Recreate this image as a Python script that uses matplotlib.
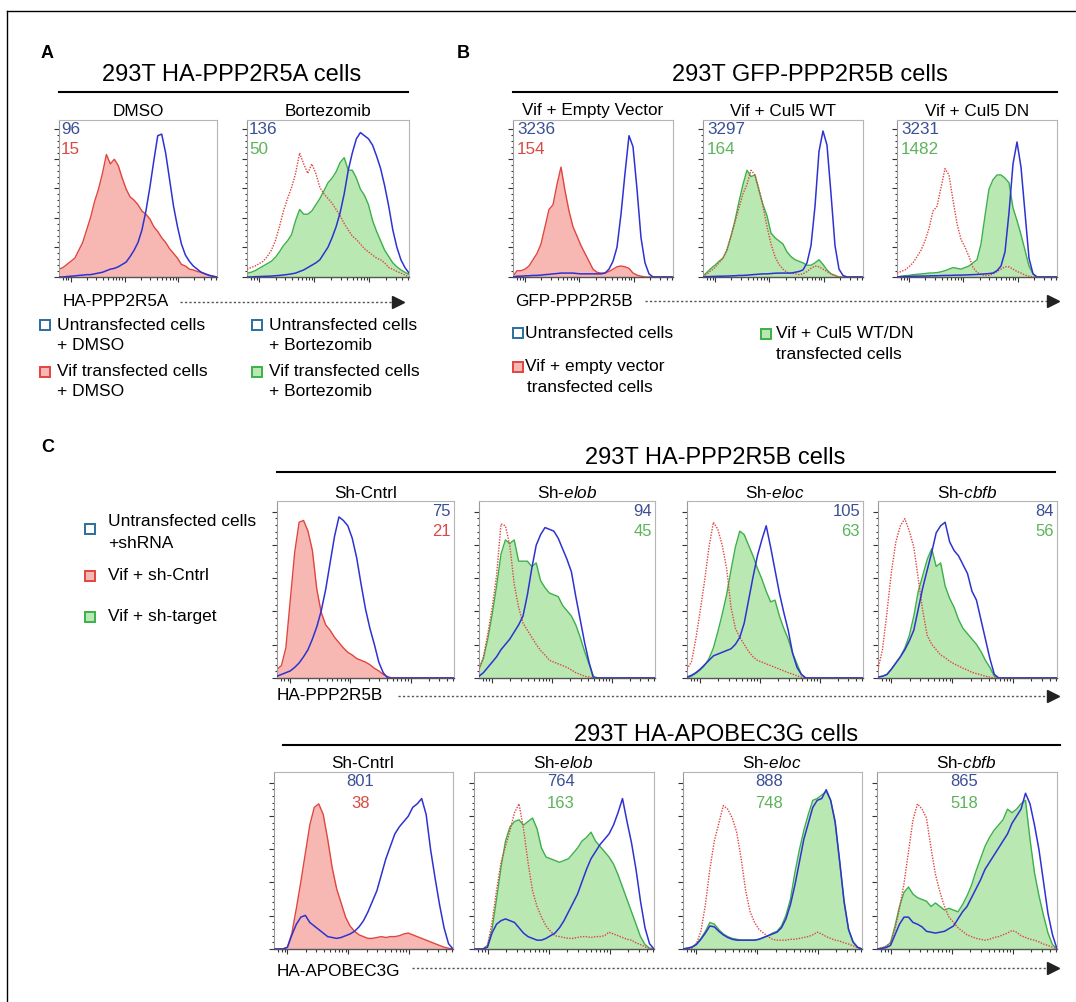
import numpy as np
import matplotlib
matplotlib.use("Agg")
import matplotlib.pyplot as plt
from matplotlib.lines import Line2D

plt.rcParams['font.family'] = ['Liberation Sans', 'DejaVu Sans']
plt.rcParams['mathtext.fontset'] = 'custom'
plt.rcParams['mathtext.rm'] = 'Liberation Sans'
plt.rcParams['mathtext.it'] = 'Liberation Sans:italic'

W, H = 1076, 1002

# histogram bin centres (fraction of the log-scaled fluorescence axis)
BINS = np.linspace(0, 1, 41)

# ---------------- A: 293T HA-PPP2R5A cells (relative counts per bin)
A_DMSO_VIF = [0.05, 0.06, 0.08, 0.10, 0.12, 0.17, 0.22, 0.30, 0.38, 0.48,
              0.56, 0.66, 0.78, 0.72, 0.75, 0.71, 0.63, 0.56, 0.51, 0.49,
              0.46, 0.42, 0.40, 0.37, 0.32, 0.29, 0.25, 0.22, 0.18, 0.15,
              0.12, 0.08, 0.07, 0.05, 0.045, 0.035, 0.03, 0.02, 0.012, 0.005, 0]
A_DMSO_UNT = [0, 0, 0.003, 0.005, 0.007, 0.01, 0.012, 0.015, 0.015, 0.02,
              0.025, 0.03, 0.04, 0.05, 0.055, 0.065, 0.08, 0.095, 0.13, 0.17,
              0.22, 0.30, 0.42, 0.57, 0.74, 0.90, 0.91, 0.79, 0.62, 0.45,
              0.32, 0.21, 0.14, 0.10, 0.07, 0.05, 0.03, 0.02, 0.01, 0.005, 0]
A_BORT_REF = [0.05, 0.06, 0.07, 0.085, 0.10, 0.13, 0.17, 0.23, 0.32, 0.42,
              0.50, 0.57, 0.66, 0.79, 0.72, 0.66, 0.72, 0.66, 0.57, 0.53,
              0.50, 0.47, 0.43, 0.39, 0.34, 0.30, 0.26, 0.24, 0.21, 0.18,
              0.16, 0.14, 0.12, 0.11, 0.09, 0.06, 0.05, 0.035, 0.025, 0.012, 0]
A_BORT_VIF = [0.025, 0.03, 0.04, 0.055, 0.07, 0.085, 0.10, 0.125, 0.16, 0.20,
              0.23, 0.27, 0.36, 0.43, 0.40, 0.40, 0.42, 0.46, 0.50, 0.55,
              0.60, 0.63, 0.67, 0.73, 0.76, 0.68, 0.68, 0.63, 0.56, 0.52,
              0.46, 0.36, 0.29, 0.23, 0.17, 0.13, 0.09, 0.065, 0.045, 0.03, 0.015]
A_BORT_UNT = [0, 0, 0.002, 0.003, 0.004, 0.005, 0.006, 0.008, 0.01, 0.013,
              0.016, 0.02, 0.025, 0.035, 0.045, 0.06, 0.075, 0.09, 0.11, 0.15,
              0.19, 0.25, 0.32, 0.41, 0.53, 0.68, 0.79, 0.88, 0.92, 0.90,
              0.88, 0.84, 0.77, 0.69, 0.58, 0.45, 0.30, 0.19, 0.11, 0.06, 0.025]

# ---------------- B: 293T GFP-PPP2R5B cells
B_EV_VIF = [0.005, 0.04, 0.04, 0.05, 0.07, 0.11, 0.15, 0.21, 0.32, 0.43,
            0.46, 0.59, 0.70, 0.55, 0.42, 0.32, 0.26, 0.20, 0.15, 0.10,
            0.05, 0.03, 0.025, 0.025, 0.035, 0.05, 0.065, 0.07, 0.065, 0.055,
            0.025, 0.012, 0.005, 0, 0, 0, 0, 0, 0, 0, 0]
B_EV_UNT = [0, 0.005, 0.005, 0.007, 0.008, 0.01, 0.01, 0.012, 0.015, 0.017,
            0.02, 0.022, 0.025, 0.025, 0.025, 0.025, 0.022, 0.02, 0.02, 0.02,
            0.02, 0.02, 0.02, 0.025, 0.05, 0.10, 0.19, 0.40, 0.66, 0.90,
            0.83, 0.56, 0.25, 0.09, 0.02, 0, 0, 0, 0, 0, 0]
B_WT_VIF = [0.005, 0.03, 0.055, 0.075, 0.10, 0.12, 0.17, 0.26, 0.36, 0.48,
            0.59, 0.68, 0.64, 0.65, 0.55, 0.46, 0.39, 0.28, 0.25, 0.23,
            0.21, 0.16, 0.13, 0.11, 0.10, 0.09, 0.075, 0.075, 0.09, 0.11,
            0.08, 0.045, 0.02, 0.01, 0, 0, 0, 0, 0, 0, 0]
B_WT_REF = [0, 0.02, 0.04, 0.06, 0.09, 0.12, 0.18, 0.26, 0.35, 0.44,
            0.53, 0.59, 0.68, 0.65, 0.56, 0.45, 0.32, 0.21, 0.13, 0.08,
            0.05, 0.03, 0.025, 0.02, 0.015, 0.02, 0.035, 0.055, 0.07, 0.065,
            0.05, 0.035, 0.02, 0.01, 0, 0, 0, 0, 0, 0, 0]
B_WT_UNT = [0, 0.002, 0.003, 0.004, 0.005, 0.005, 0.006, 0.007, 0.008, 0.01,
            0.01, 0.012, 0.014, 0.016, 0.018, 0.02, 0.02, 0.022, 0.024, 0.025,
            0.025, 0.025, 0.025, 0.03, 0.035, 0.045, 0.09, 0.20, 0.45, 0.80,
            0.93, 0.84, 0.53, 0.20, 0.05, 0.01, 0, 0, 0, 0, 0]
B_DN_REF = [0.025, 0.035, 0.045, 0.065, 0.09, 0.13, 0.17, 0.23, 0.31, 0.42,
            0.45, 0.57, 0.69, 0.65, 0.49, 0.34, 0.24, 0.19, 0.13, 0.06,
            0.03, 0.015, 0.01, 0.01, 0.02, 0.035, 0.05, 0.065, 0.065, 0.05,
            0.035, 0.025, 0.012, 0.005, 0, 0, 0, 0, 0, 0, 0]
B_DN_VIF = [0, 0.005, 0.008, 0.01, 0.015, 0.017, 0.02, 0.022, 0.025, 0.026,
            0.028, 0.033, 0.04, 0.05, 0.06, 0.055, 0.05, 0.06, 0.07, 0.09,
            0.11, 0.21, 0.39, 0.56, 0.62, 0.65, 0.65, 0.63, 0.60, 0.44,
            0.36, 0.27, 0.17, 0.07, 0.02, 0, 0, 0, 0, 0, 0]
B_DN_UNT = [0, 0.002, 0.003, 0.004, 0.005, 0.005, 0.006, 0.006, 0.007, 0.008,
            0.008, 0.009, 0.01, 0.01, 0.011, 0.012, 0.012, 0.013, 0.014, 0.015,
            0.016, 0.018, 0.02, 0.022, 0.025, 0.04, 0.07, 0.16, 0.41, 0.72,
            0.86, 0.70, 0.41, 0.12, 0.02, 0, 0, 0, 0, 0, 0]

# ---------------- C (top): 293T HA-PPP2R5B cells
C1_CNTRL_VIF = [0.05, 0.07, 0.17, 0.44, 0.71, 0.88, 0.89, 0.83, 0.72, 0.50,
                0.37, 0.30, 0.27, 0.23, 0.20, 0.17, 0.145, 0.13, 0.11, 0.10,
                0.09, 0.075, 0.055, 0.04, 0.02, 0.008, 0, 0, 0, 0,
                0, 0, 0, 0, 0, 0, 0, 0, 0, 0, 0]
C1_CNTRL_UNT = [0.01, 0.02, 0.03, 0.04, 0.06, 0.085, 0.12, 0.16, 0.22, 0.29,
                0.38, 0.50, 0.65, 0.80, 0.91, 0.89, 0.86, 0.79, 0.68, 0.53,
                0.39, 0.28, 0.19, 0.09, 0.03, 0, 0, 0, 0, 0,
                0, 0, 0, 0, 0, 0, 0, 0, 0, 0, 0]
C1_ELOB_REF = [0.05, 0.12, 0.25, 0.40, 0.58, 0.87, 0.86, 0.75, 0.53, 0.40,
               0.31, 0.27, 0.23, 0.19, 0.155, 0.13, 0.10, 0.09, 0.08, 0.07,
               0.06, 0.045, 0.03, 0.02, 0.01, 0.005, 0, 0, 0, 0,
               0, 0, 0, 0, 0, 0, 0, 0, 0, 0, 0]
C1_ELOB_VIF = [0.05, 0.11, 0.22, 0.36, 0.52, 0.70, 0.78, 0.76, 0.78, 0.66,
               0.66, 0.66, 0.63, 0.65, 0.55, 0.51, 0.48, 0.47, 0.46, 0.41,
               0.38, 0.35, 0.30, 0.23, 0.15, 0.08, 0.01, 0, 0, 0,
               0, 0, 0, 0, 0, 0, 0, 0, 0, 0, 0]
C1_ELOB_UNT = [0.01, 0.03, 0.06, 0.09, 0.12, 0.16, 0.19, 0.22, 0.26, 0.30,
               0.35, 0.47, 0.62, 0.75, 0.81, 0.85, 0.84, 0.83, 0.79, 0.73,
               0.67, 0.60, 0.46, 0.33, 0.20, 0.09, 0, 0, 0, 0,
               0, 0, 0, 0, 0, 0, 0, 0, 0, 0, 0]
C1_ELOC_REF = [0.05, 0.09, 0.22, 0.38, 0.55, 0.74, 0.88, 0.84, 0.75, 0.62,
               0.40, 0.28, 0.23, 0.19, 0.15, 0.12, 0.10, 0.09, 0.08, 0.07,
               0.06, 0.05, 0.04, 0.03, 0.022, 0.012, 0.005, 0, 0, 0,
               0, 0, 0, 0, 0, 0, 0, 0, 0, 0, 0]
C1_ELOC_VIF = [0, 0.01, 0.025, 0.045, 0.07, 0.11, 0.17, 0.26, 0.36, 0.47,
               0.61, 0.74, 0.83, 0.81, 0.75, 0.69, 0.62, 0.56, 0.49, 0.43,
               0.44, 0.35, 0.28, 0.22, 0.14, 0.08, 0.02, 0, 0, 0,
               0, 0, 0, 0, 0, 0, 0, 0, 0, 0, 0]
C1_ELOC_UNT = [0.005, 0.015, 0.03, 0.05, 0.075, 0.10, 0.125, 0.135, 0.145, 0.155,
               0.165, 0.19, 0.23, 0.31, 0.44, 0.57, 0.69, 0.78, 0.86, 0.74,
               0.61, 0.48, 0.37, 0.27, 0.14, 0.06, 0.02, 0, 0, 0,
               0, 0, 0, 0, 0, 0, 0, 0, 0, 0, 0]
C1_CBFB_REF = [0.05, 0.16, 0.37, 0.60, 0.77, 0.86, 0.90, 0.83, 0.74, 0.56,
               0.38, 0.24, 0.19, 0.16, 0.13, 0.115, 0.095, 0.08, 0.068, 0.055,
               0.045, 0.032, 0.025, 0.018, 0.01, 0.005, 0, 0, 0, 0,
               0, 0, 0, 0, 0, 0, 0, 0, 0, 0, 0]
C1_CBFB_VIF = [0.005, 0.01, 0.02, 0.05, 0.085, 0.12, 0.17, 0.24, 0.35, 0.49,
               0.58, 0.67, 0.73, 0.63, 0.65, 0.52, 0.45, 0.40, 0.33, 0.28,
               0.25, 0.22, 0.19, 0.15, 0.10, 0.06, 0.01, 0, 0, 0,
               0, 0, 0, 0, 0, 0, 0, 0, 0, 0, 0]
C1_CBFB_UNT = [0.005, 0.01, 0.02, 0.05, 0.085, 0.12, 0.16, 0.21, 0.27, 0.39,
               0.51, 0.61, 0.71, 0.82, 0.86, 0.88, 0.77, 0.72, 0.69, 0.64,
               0.59, 0.49, 0.44, 0.33, 0.22, 0.11, 0.02, 0, 0, 0,
               0, 0, 0, 0, 0, 0, 0, 0, 0, 0, 0]

# ---------------- C (bottom): 293T HA-APOBEC3G cells
C2_CNTRL_VIF = [0, 0, 0, 0.01, 0.09, 0.23, 0.38, 0.54, 0.70, 0.80,
                0.82, 0.76, 0.62, 0.46, 0.34, 0.26, 0.18, 0.13, 0.10, 0.08,
                0.07, 0.06, 0.06, 0.065, 0.07, 0.065, 0.07, 0.07, 0.075, 0.085,
                0.09, 0.08, 0.07, 0.06, 0.05, 0.04, 0.03, 0.02, 0.01, 0.004, 0]
C2_CNTRL_UNT = [0, 0, 0, 0.01, 0.08, 0.14, 0.18, 0.19, 0.15, 0.13,
                0.11, 0.09, 0.07, 0.065, 0.06, 0.065, 0.075, 0.085, 0.10, 0.125,
                0.16, 0.21, 0.27, 0.33, 0.42, 0.51, 0.58, 0.65, 0.69, 0.72,
                0.75, 0.80, 0.82, 0.85, 0.76, 0.56, 0.40, 0.25, 0.12, 0.03, 0]
C2_ELOB_REF = [0, 0, 0, 0.02, 0.15, 0.33, 0.49, 0.58, 0.67, 0.77,
               0.82, 0.68, 0.49, 0.33, 0.24, 0.18, 0.13, 0.10, 0.075, 0.07,
               0.065, 0.06, 0.06, 0.065, 0.07, 0.07, 0.065, 0.07, 0.07, 0.075,
               0.095, 0.085, 0.075, 0.065, 0.055, 0.05, 0.035, 0.025, 0.012, 0.003, 0]
C2_ELOB_VIF = [0, 0, 0, 0.02, 0.11, 0.28, 0.46, 0.61, 0.69, 0.72,
               0.73, 0.70, 0.72, 0.74, 0.68, 0.57, 0.52, 0.51, 0.50, 0.49,
               0.50, 0.51, 0.54, 0.57, 0.61, 0.63, 0.66, 0.61, 0.58, 0.55,
               0.52, 0.48, 0.42, 0.35, 0.28, 0.21, 0.14, 0.07, 0.025, 0.005, 0]
C2_ELOB_UNT = [0, 0, 0, 0.01, 0.09, 0.14, 0.16, 0.17, 0.16, 0.15,
               0.12, 0.09, 0.07, 0.06, 0.05, 0.05, 0.06, 0.075, 0.09, 0.12,
               0.16, 0.21, 0.26, 0.31, 0.38, 0.45, 0.51, 0.55, 0.59, 0.62,
               0.65, 0.70, 0.77, 0.85, 0.72, 0.60, 0.45, 0.27, 0.12, 0.03, 0]
C2_ELOC_REF = [0, 0, 0.005, 0.03, 0.10, 0.25, 0.45, 0.61, 0.71, 0.81,
               0.79, 0.74, 0.66, 0.51, 0.33, 0.21, 0.15, 0.11, 0.09, 0.07,
               0.055, 0.05, 0.05, 0.05, 0.055, 0.055, 0.06, 0.065, 0.07, 0.08,
               0.095, 0.085, 0.07, 0.06, 0.05, 0.045, 0.035, 0.028, 0.018, 0.008, 0]
C2_ELOC_VIF = [0, 0.005, 0.012, 0.03, 0.06, 0.10, 0.15, 0.14, 0.11, 0.085,
               0.07, 0.06, 0.055, 0.05, 0.05, 0.05, 0.05, 0.055, 0.065, 0.075,
               0.09, 0.10, 0.13, 0.19, 0.28, 0.43, 0.56, 0.67, 0.76, 0.84,
               0.85, 0.87, 0.89, 0.84, 0.71, 0.49, 0.26, 0.11, 0.04, 0.01, 0]
C2_ELOC_UNT = [0, 0.005, 0.01, 0.025, 0.055, 0.09, 0.13, 0.125, 0.10, 0.08,
               0.065, 0.055, 0.05, 0.05, 0.05, 0.05, 0.05, 0.055, 0.065, 0.075,
               0.085, 0.095, 0.12, 0.17, 0.25, 0.36, 0.49, 0.62, 0.71, 0.80,
               0.84, 0.85, 0.90, 0.84, 0.72, 0.50, 0.27, 0.11, 0.04, 0.01, 0]
C2_CBFB_REF = [0, 0.005, 0.015, 0.035, 0.11, 0.23, 0.37, 0.55, 0.73, 0.82,
               0.79, 0.74, 0.57, 0.42, 0.32, 0.24, 0.18, 0.15, 0.12, 0.10,
               0.08, 0.07, 0.06, 0.055, 0.05, 0.055, 0.065, 0.07, 0.08, 0.09,
               0.105, 0.095, 0.075, 0.065, 0.055, 0.05, 0.04, 0.028, 0.02, 0.01, 0]
C2_CBFB_VIF = [0, 0.005, 0.015, 0.035, 0.13, 0.24, 0.32, 0.35, 0.31, 0.29,
               0.28, 0.27, 0.24, 0.26, 0.24, 0.22, 0.23, 0.22, 0.21, 0.25,
               0.30, 0.36, 0.44, 0.51, 0.58, 0.63, 0.67, 0.70, 0.73, 0.79,
               0.77, 0.79, 0.82, 0.84, 0.62, 0.43, 0.30, 0.19, 0.09, 0.025, 0]
C2_CBFB_UNT = [0, 0.003, 0.008, 0.02, 0.08, 0.14, 0.18, 0.18, 0.15, 0.14,
               0.125, 0.10, 0.095, 0.09, 0.095, 0.10, 0.115, 0.13, 0.17, 0.21,
               0.24, 0.29, 0.34, 0.39, 0.45, 0.49, 0.53, 0.57, 0.61, 0.65,
               0.71, 0.75, 0.79, 0.88, 0.82, 0.70, 0.56, 0.38, 0.20, 0.08, 0]

# MFI values printed in each panel (untransfected, Vif)
A_MFI = [("96", "15"), ("136", "50")]
B_MFI = [("3236", "154"), ("3297", "164"), ("3231", "1482")]
C1_MFI = [("75", "21"), ("94", "45"), ("105", "63"), ("84", "56")]
C2_MFI = [("801", "38"), ("764", "163"), ("888", "748"), ("865", "518")]

A_SUB = ["DMSO", "Bortezomib"]
B_SUB = ["Vif + Empty Vector", "Vif + Cul5 WT", "Vif + Cul5 DN"]
C_SUB = ["Sh-Cntrl", r"Sh-$\mathit{elob}$", r"Sh-$\mathit{eloc}$", r"Sh-$\mathit{cbfb}$"]

BLUE = '#2f32d2'
RED = '#e2443e'
RED_FILL = '#f7b8b4'
GREEN = '#3cb04a'
GREEN_FILL = '#b9e8b3'
NUM_BLUE = '#3b4f95'
NUM_RED = '#d84a45'
NUM_GREEN = '#5cb35c'
FS = 12.3

fig = plt.figure(figsize=(W / 100, H / 100), dpi=100)


def fx(x):
    return x / W


def fy(y):
    return 1 - y / H


def ftext(x, y, s, **kw):
    kw.setdefault('fontsize', FS)
    kw.setdefault('va', 'center')
    fig.text(fx(x), fy(y), s, **kw)


def hline(x0, x1, y, **kw):
    fig.add_artist(Line2D([fx(x0), fx(x1)], [fy(y), fy(y)], transform=fig.transFigure, **kw))


def arrow(x0, x1, y):
    hline(x0, x1 - 6, y, color='#555555', lw=1.0, ls=(0, (1.6, 1.6)))
    fig.add_artist(Line2D([fx(x1 - 5)], [fy(y)], transform=fig.transFigure, marker='>',
                          ms=9, color='#222222', mec='#222222'))


def square(x, y, edge, face):
    fig.add_artist(Line2D([fx(x)], [fy(y)], transform=fig.transFigure, marker='s', ms=7.5,
                          mfc=face, mec=edge, mew=1.4))


# x ticks: log decades of the cytometer scale
XMAJ = [0.075, 0.415, 0.755]
DEC = 0.34
XMIN = [m + DEC * np.log10(k) for m in [XMAJ[0] - DEC] + XMAJ for k in range(2, 10)]
XMIN = [v for v in XMIN if 0 < v < 1]
YMAJ = np.arange(0, 0.96, 0.188)
YMIN = np.arange(0, 0.96, 0.0376)


def panel(box, unt, vif, ref=None, vif_fill=GREEN_FILL, vif_edge=GREEN):
    x0, y0, x1, y1 = box
    ax = fig.add_axes([fx(x0), fy(y1), fx(x1 - x0), (y1 - y0) / H])
    ax.fill_between(BINS, vif, 0, color=vif_fill, lw=0, zorder=1)
    ax.plot(BINS, vif, color=vif_edge, lw=1.0, zorder=2)
    if ref is not None:
        ax.plot(BINS, ref, color=RED, lw=1.0, ls=(0, (1, 1)), zorder=3)
    ax.plot(BINS, unt, color=BLUE, lw=1.1, zorder=4)
    ax.set_xlim(0, 1)
    ax.set_ylim(0, 1)
    ax.set_xticks(XMAJ)
    ax.set_xticks(XMIN, minor=True)
    ax.set_yticks(YMAJ)
    ax.set_yticks(YMIN, minor=True)
    ax.tick_params(which='both', direction='out', labelbottom=False, labelleft=False,
                   color='#333333', width=0.8)
    ax.tick_params(which='major', length=3.5)
    ax.tick_params(which='minor', length=1.8)
    for side in ['top', 'right']:
        ax.spines[side].set_color('#b5b5b5')
        ax.spines[side].set_linewidth(0.8)
    ax.spines['left'].set_color('#9a9a9a')
    ax.spines['left'].set_linewidth(0.8)
    ax.spines['bottom'].set_color('#555555')
    ax.spines['bottom'].set_linewidth(1.0)
    return ax


# frame of the figure (top and left edges only)
hline(7, W, 11, color='black', lw=1.0)
fig.add_artist(Line2D([fx(7), fx(7)], [fy(11), 0], transform=fig.transFigure, color='black', lw=1.0))

# ---------------- panel A
ftext(47, 53, "A", fontsize=13, fontweight='bold', ha='center')
ftext(232, 75, "293T HA-PPP2R5A cells", fontsize=17, ha='center')
hline(59, 408, 92, color='black', lw=1.5)
A_BOX = [(59, 120, 217, 277), (247, 120, 409, 277)]
panel(A_BOX[0], A_DMSO_UNT, A_DMSO_VIF, vif_fill=RED_FILL, vif_edge=RED)
panel(A_BOX[1], A_BORT_UNT, A_BORT_VIF, ref=A_BORT_REF)
for box, sub, (n1, n2), c2 in zip(A_BOX, A_SUB, A_MFI, [NUM_RED, NUM_GREEN]):
    ftext((box[0] + box[2]) / 2, 111, sub, ha='center')
    ftext(box[0] + 2, 129, n1, color=NUM_BLUE, ha='left')
    ftext(box[0] + 2, 150, n2, color=c2, ha='left')
ftext(63, 302, "HA-PPP2R5A", ha='left')
arrow(180, 403, 302)
square(45, 325, '#2a6f9e', 'white')
ftext(57, 325, "Untransfected cells", ha='left', fontsize=12.5)
ftext(57, 345, "+ DMSO", ha='left', fontsize=12.5)
square(45, 372, RED, RED_FILL)
ftext(57, 372, "Vif transfected cells", ha='left', fontsize=12.5)
ftext(57, 392, "+ DMSO", ha='left', fontsize=12.5)
square(257, 325, '#2a6f9e', 'white')
ftext(269, 325, "Untransfected cells", ha='left', fontsize=12.5)
ftext(269, 345, "+ Bortezomib", ha='left', fontsize=12.5)
square(257, 372, GREEN, GREEN_FILL)
ftext(269, 372, "Vif transfected cells", ha='left', fontsize=12.5)
ftext(269, 392, "+ Bortezomib", ha='left', fontsize=12.5)

# ---------------- panel B
ftext(463, 53, "B", fontsize=13, fontweight='bold', ha='center')
ftext(810, 75, "293T GFP-PPP2R5B cells", fontsize=17, ha='center')
hline(513, 1057, 92, color='black', lw=1.5)
B_BOX = [(513, 120, 673, 277), (703, 120, 863, 277), (897, 120, 1057, 277)]
panel(B_BOX[0], B_EV_UNT, B_EV_VIF, vif_fill=RED_FILL, vif_edge=RED)
panel(B_BOX[1], B_WT_UNT, B_WT_VIF, ref=B_WT_REF)
panel(B_BOX[2], B_DN_UNT, B_DN_VIF, ref=B_DN_REF)
for box, sub, (n1, n2), c2 in zip(B_BOX, B_SUB, B_MFI, [NUM_RED, NUM_GREEN, NUM_GREEN]):
    ftext((box[0] + box[2]) / 2, 111, sub, ha='center')
    ftext(box[0] + 4, 129, n1, color=NUM_BLUE, ha='left')
    ftext(box[0] + 4, 150, n2, color=c2, ha='left')
ftext(515, 301, "GFP-PPP2R5B", ha='left')
arrow(645, 1058, 301)
square(518, 333, '#2a6f9e', 'white')
ftext(525, 333, "Untransfected cells", ha='left', fontsize=12.5)
square(518, 367, RED, RED_FILL)
ftext(525, 367, "Vif + empty vector", ha='left', fontsize=12.5)
ftext(527, 387, "transfected cells", ha='left', fontsize=12.5)
square(766, 334, GREEN, GREEN_FILL)
ftext(776, 334, "Vif + Cul5 WT/DN", ha='left', fontsize=12.5)
ftext(776, 355, "transfected cells", ha='left', fontsize=12.5)

# ---------------- panel C
ftext(48, 448, "C", fontsize=13, fontweight='bold', ha='center')
square(90, 529, '#2a6f9e', 'white')
ftext(108, 522, "Untransfected cells", ha='left', fontsize=12.5)
ftext(108, 543, "+shRNA", ha='left', fontsize=12.5)
square(90, 576, RED, RED_FILL)
ftext(108, 576, "Vif + sh-Cntrl", ha='left', fontsize=12.5)
square(90, 617, GREEN, GREEN_FILL)
ftext(108, 617, "Vif + sh-target", ha='left', fontsize=12.5)

ftext(715, 458, "293T HA-PPP2R5B cells", fontsize=17, ha='center')
hline(277, 1055, 472, color='black', lw=1.5)
C1_BOX = [(277, 501, 454, 678), (479, 501, 655, 678), (687, 501, 863, 678), (878, 501, 1057, 678)]
panel(C1_BOX[0], C1_CNTRL_UNT, C1_CNTRL_VIF, vif_fill=RED_FILL, vif_edge=RED)
panel(C1_BOX[1], C1_ELOB_UNT, C1_ELOB_VIF, ref=C1_ELOB_REF)
panel(C1_BOX[2], C1_ELOC_UNT, C1_ELOC_VIF, ref=C1_ELOC_REF)
panel(C1_BOX[3], C1_CBFB_UNT, C1_CBFB_VIF, ref=C1_CBFB_REF)
for i, (box, sub, (n1, n2)) in enumerate(zip(C1_BOX, C_SUB, C1_MFI)):
    ftext((box[0] + box[2]) / 2, 493, sub, ha='center')
    ftext(box[2] - 3, 511, n1, color=NUM_BLUE, ha='right', fontsize=12)
    ftext(box[2] - 3, 531, n2, color=NUM_RED if i == 0 else NUM_GREEN, ha='right', fontsize=12)
ftext(277, 696, "HA-PPP2R5B", ha='left')
arrow(398, 1058, 696)

ftext(716, 735, "293T HA-APOBEC3G cells", fontsize=17, ha='center')
hline(283, 1060, 745, color='black', lw=1.5)
C2_BOX = [(274, 772, 453, 949), (474, 772, 654, 949), (683, 772, 862, 949), (877, 772, 1057, 949)]
panel(C2_BOX[0], C2_CNTRL_UNT, C2_CNTRL_VIF, vif_fill=RED_FILL, vif_edge=RED)
panel(C2_BOX[1], C2_ELOB_UNT, C2_ELOB_VIF, ref=C2_ELOB_REF)
panel(C2_BOX[2], C2_ELOC_UNT, C2_ELOC_VIF, ref=C2_ELOC_REF)
panel(C2_BOX[3], C2_CBFB_UNT, C2_CBFB_VIF, ref=C2_CBFB_REF)
for i, (box, sub, (n1, n2)) in enumerate(zip(C2_BOX, C_SUB, C2_MFI)):
    cx = (box[0] + box[2]) / 2 - 3
    ftext(cx + 2, 763, sub, ha='center')
    ftext(cx, 782, n1, color=NUM_BLUE, ha='center', fontsize=12)
    ftext(cx, 803, n2, color=NUM_RED if i == 0 else NUM_GREEN, ha='center', fontsize=12)
ftext(277, 971, "HA-APOBEC3G", ha='left')
arrow(412, 1058, 968)

fig.savefig("out.png", dpi=100)
